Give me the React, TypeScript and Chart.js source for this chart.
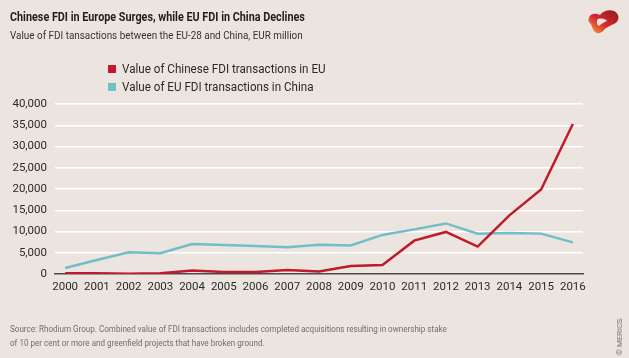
import React, { useEffect, useRef } from "react";
import { Chart, registerables } from "chart.js";

Chart.register(...registerables);

const years = [2000, 2001, 2002, 2003, 2004, 2005, 2006, 2007, 2008, 2009, 2010, 2011, 2012, 2013, 2014, 2015, 2016];
const chineseFdiInEu = [150, 200, 50, 150, 800, 500, 500, 950, 600, 1900, 2100, 7850, 9900, 6450, 13800, 19900, 35300];
const euFdiInChina = [1400, 3300, 5100, 4900, 7050, 6800, 6600, 6300, 6900, 6700, 9200, 10500, 11900, 9500, 9650, 9500, 7450];
const yTicks = [0, 5000, 10000, 15000, 20000, 25000, 30000, 35000, 40000];

const RED = "#C01A2C";
const BLUE = "#72BEC6";
const BG = "#ECE5DF";
const FONT = "Roboto, 'Liberation Sans', Arial, sans-serif";

export default function App() {
  const ref = useRef<HTMLCanvasElement | null>(null);

  useEffect(() => {
    if (!ref.current) return;
    const chart = new Chart(ref.current, {
      type: "line",
      data: {
        datasets: [
          {
            label: "Value of Chinese FDI transactions in EU",
            data: years.map((y, i) => ({ x: y, y: chineseFdiInEu[i] })),
            borderColor: RED,
            backgroundColor: RED,
            borderWidth: 2.5,
            pointRadius: 0,
            tension: 0,
          },
          {
            label: "Value of EU FDI transactions in China",
            data: years.map((y, i) => ({ x: y, y: euFdiInChina[i] })),
            borderColor: BLUE,
            backgroundColor: BLUE,
            borderWidth: 2.5,
            pointRadius: 0,
            tension: 0,
          },
        ],
      },
      options: {
        animation: false,
        responsive: false,
        maintainAspectRatio: false,
        layout: { padding: { left: 0, right: 46, top: 104, bottom: 0 } },
        plugins: { legend: { display: false }, tooltip: { enabled: false } },
        scales: {
          x: {
            type: "linear",
            min: years[0] - 0.32,
            max: years[years.length - 1] + 0.32,
            afterBuildTicks: (scale: any) => {
              scale.ticks = years.map((v) => ({ value: v }));
            },
            afterFit: (scale: any) => {
              scale.height = 84;
            },
            grid: { display: false, drawTicks: false },
            border: { display: true, color: "#4a4a4a", width: 1.5 },
            ticks: {
              color: "#2a2a2a",
              font: { family: FONT, size: 11.5 },
              padding: 6,
              autoSkip: false,
              maxRotation: 0,
              callback: (v: any) => String(v),
            },
          },
          y: {
            min: 0,
            max: 40000,
            afterBuildTicks: (scale: any) => {
              scale.ticks = yTicks.map((v) => ({ value: v }));
            },
            afterFit: (scale: any) => {
              scale.width = 55;
            },
            grid: {
              color: (ctx: any) => (ctx.tick && ctx.tick.value === 0 ? "rgba(0,0,0,0)" : "#ffffff"),
              lineWidth: 1.5,
              drawTicks: false,
            },
            border: { display: false },
            ticks: {
              color: "#2a2a2a",
              font: { family: FONT, size: 11.5 },
              padding: 8,
              callback: (v: any) => Number(v).toLocaleString("en-US"),
            },
          },
        },
      },
    });
    return () => chart.destroy();
  }, []);

  const text: React.CSSProperties = {
    position: "absolute",
    whiteSpace: "nowrap",
    fontFamily: FONT,
    transformOrigin: "0 50%",
  };

  return (
    <div style={{ position: "absolute", left: 0, top: 0, width: 629, height: 358, background: BG, overflow: "hidden" }}>
      <canvas ref={ref} width={629} height={358} style={{ position: "absolute", left: 0, top: 0 }} />
      <div style={{ ...text, left: 10, top: 8, fontSize: 12, fontWeight: 700, color: "#1e1e1e", lineHeight: "18px", transform: "scaleX(0.9)" }}>
        Chinese FDI in Europe Surges, while EU FDI in China Declines
      </div>
      <div style={{ ...text, left: 10, top: 26, fontSize: 11.5, color: "#333", lineHeight: "18px", transform: "scaleX(0.86)" }}>
        Value of FDI tansactions between the EU-28 and China, EUR million
      </div>
      <div style={{ ...text, left: 108, top: 60, fontSize: 12, color: "#2a2a2a", lineHeight: "18px", display: "flex", alignItems: "center" }}>
        <span style={{ display: "inline-block", width: 8, height: 8, background: RED, marginRight: 6 }} />
        <span style={{ display: "inline-block", transform: "scaleX(0.97)", transformOrigin: "0 50%" }}>Value of Chinese FDI transactions in EU</span>
      </div>
      <div style={{ ...text, left: 108, top: 78, fontSize: 12, color: "#2a2a2a", lineHeight: "18px", display: "flex", alignItems: "center" }}>
        <span style={{ display: "inline-block", width: 8, height: 8, background: BLUE, marginRight: 6 }} />
        <span style={{ display: "inline-block", transform: "scaleX(0.97)", transformOrigin: "0 50%" }}>Value of EU FDI transactions in China</span>
      </div>
      <div style={{ ...text, left: 10, top: 322, fontSize: 9.5, color: "#6e6e6e", lineHeight: "14px", transform: "scaleX(0.85)" }}>
        Source: Rhodium Group. Combined value of FDI transactions includes completed acquisitions resulting in ownership stake
        <br />
        of 10 per cent or more and greenfield projects that have broken ground.
      </div>
      <div
        style={{
          position: "absolute",
          whiteSpace: "nowrap",
          fontFamily: FONT,
          left: 620,
          top: 337,
          fontSize: 8,
          color: "#6e6e6e",
          transform: "translate(-50%, -50%) rotate(-90deg)",
          lineHeight: "10px",
        }}
      >
        © MERICS
      </div>
      <svg width={34} height={26} viewBox="0 0 34 26" style={{ position: "absolute", left: 588, top: 8 }}>
        <defs>
          <linearGradient id="lg" x1="0" y1="1" x2="1" y2="0">
            <stop offset="0" stopColor="#F9A73A" />
            <stop offset="0.45" stopColor="#D8282F" />
            <stop offset="1" stopColor="#8E1A1F" />
          </linearGradient>
        </defs>
        <path
          fillRule="evenodd"
          fill="url(#lg)"
          d="M1 10 C2 5 8 5 12 7 C15 3 21 1 26 3 C32 6 32 13 26 16 C22 18 18 19 16 22 C13 26 8 26 6 23 C4 20 4 17 2 15 C0 13 0 12 1 10 Z M10 11 C13 10 18 11 19 13 C16 14 13 16 11 18 C9 17 8 13 10 11 Z"
        />
      </svg>
    </div>
  );
}
